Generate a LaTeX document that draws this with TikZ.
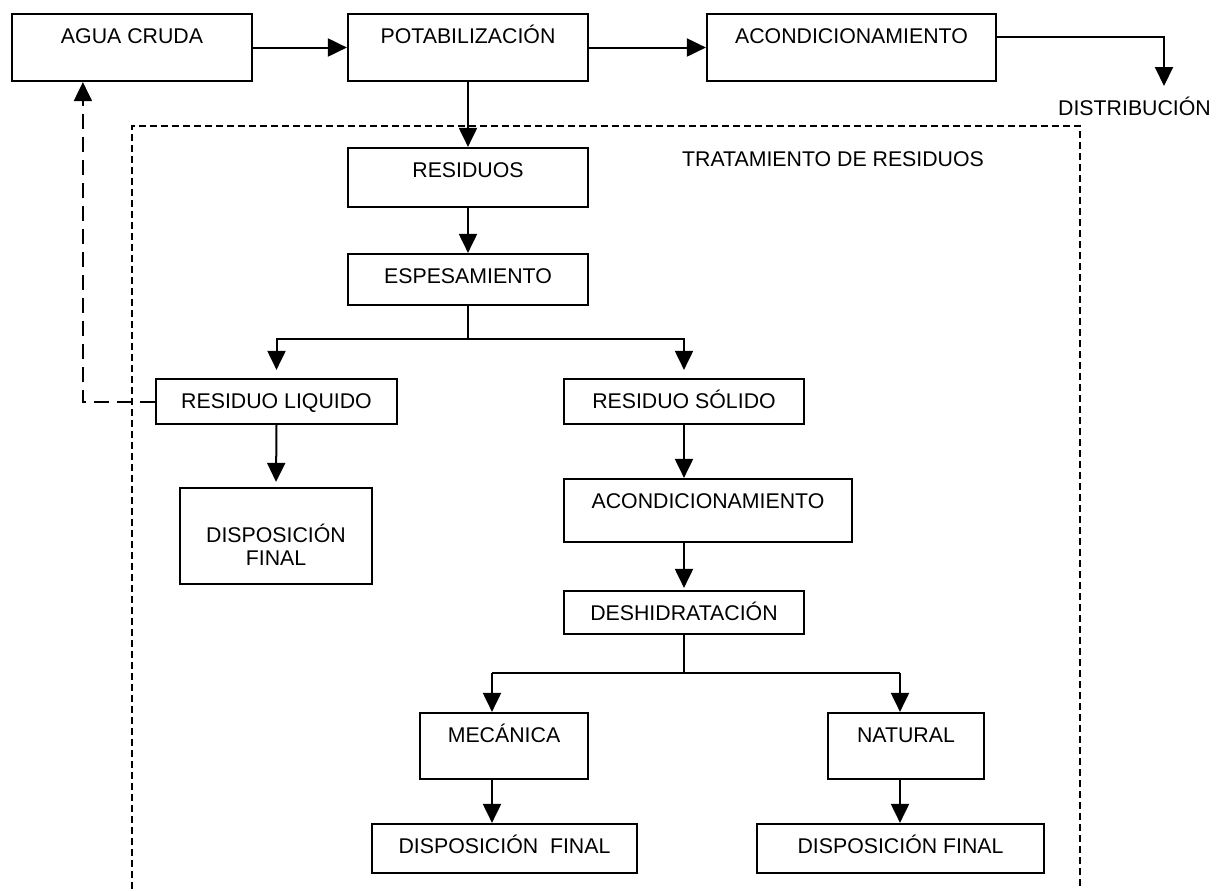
\documentclass[tikz,border=0pt]{standalone}
\usepackage{fontspec}
\setmainfont{Liberation Sans}
\usetikzlibrary{arrows.meta,calc}
\begin{document}
\begin{tikzpicture}[x=0.5pt,y=-0.5pt,
  font=\fontsize{10.65pt}{11.5pt}\selectfont,
  box/.style={draw, line width=1.1pt, rectangle, inner sep=0pt},
  lbl/.style={anchor=center, inner sep=0pt, text height=0.716em, text depth=0pt},
  ttl/.style={label={[lbl, yshift=-11.75pt]north:#1}},
  conn/.style={line width=1pt},
  tip/.style={-{Triangle[length=9.5pt,width=9pt]}},
  arr/.style={conn, tip},
  fb/.style={line width=1pt, dash pattern=on 7.5pt off 4pt, tip},
  zone/.style={line width=0.9pt, dash pattern=on 3.5pt off 2pt}
]
\useasboundingbox (0,0) rectangle (1217,890);

% main water line
\node[box, minimum width=120pt,   minimum height=33.5pt, ttl={AGUA CRUDA}]        (agua)  at (132,47.5)   {};
\node[box, minimum width=120pt,   minimum height=33.5pt, ttl={POTABILIZACIÓN}]    (pot)   at (468,47.5)   {};
\node[box, minimum width=144.5pt, minimum height=33.5pt, ttl={ACONDICIONAMIENTO}] (acond) at (851.5,47.5) {};
\node[lbl] (distrib) at (1134.5,108) {DISTRIBUCIÓN};

% waste treatment zone
\draw[zone] (132,889) -- (132,126) -- (1080,126) -- (1080,889);
\node[lbl] (trat) at (833,159) {TRATAMIENTO DE RESIDUOS};

\node[box, minimum width=120pt,   minimum height=29.5pt, ttl={RESIDUOS}]          (residuos) at (468,177.5) {};
\node[box, minimum width=120pt,   minimum height=25.5pt, ttl={ESPESAMIENTO}]      (espes)    at (468,279.5) {};
\node[box, minimum width=120.5pt, minimum height=22.5pt, ttl={RESIDUO LIQUIDO}]   (rliq)     at (276.5,401.5) {};
\node[box, minimum width=96pt,    minimum height=48pt,
      label={[lbl, yshift=-24pt]north:DISPOSICIÓN},
      label={[lbl, yshift=-35.5pt]north:FINAL}]                                    (disp1)    at (276,536) {};
\node[box, minimum width=120pt,   minimum height=22.5pt, ttl={RESIDUO SÓLIDO}]    (rsol)     at (684,401.5) {};
\node[box, minimum width=144pt,   minimum height=31.5pt, ttl={ACONDICIONAMIENTO}] (acond2)   at (708,510.5) {};
\node[box, minimum width=120pt,   minimum height=21.5pt, ttl={DESHIDRATACIÓN}]    (deshid)   at (684,612.5) {};
\node[box, minimum width=84pt,    minimum height=33pt,   ttl={MECÁNICA}]          (mec)      at (504,746) {};
\node[box, minimum width=78pt,    minimum height=33pt,   ttl={NATURAL}]           (nat)      at (906,746) {};
\node[box, minimum width=132.5pt, minimum height=24.5pt, ttl={DISPOSICIÓN\ \ FINAL}] (disp2) at (504.5,848.5) {};
\node[box, minimum width=143.5pt, minimum height=24.5pt, ttl={DISPOSICIÓN FINAL}] (disp3)    at (900.5,848.5) {};

% connectors of the main line
\draw[arr] (agua.east) -- (pot.west);
\draw[arr] (pot.east) -- (acond.west);
\coordinate (dtip) at (1164,86);
\draw[arr] ($(acond.north east)+(0,24)$) -| (dtip);

% connectors of the treatment
\draw[arr] (pot.south) -- (residuos.north);
\draw[arr] (residuos.south) -- (espes.north);
\coordinate (espsplit) at (468,339);
\draw[conn] (espes.south) -- (espsplit);
\draw[arr, shorten >=4pt] (espsplit) -| (rliq.north);
\draw[arr, shorten >=4pt] (espsplit) -| (rsol.north);
\draw[arr, shorten >=2.5pt] (rliq.south) -- (disp1.north);
\draw[arr] (rsol.south) -- (rsol.south |- acond2.north);
\draw[arr, shorten >=1pt] (rsol.south |- acond2.south) -- (deshid.north);

\coordinate (dessplit) at (684,673);
\coordinate (lsp) at (492,673);
\coordinate (rsp) at (900,673);
\draw[conn] (deshid.south) -- (dessplit);
\draw[conn] (lsp) -- (rsp);
\draw[arr] (lsp) -- (lsp |- mec.north);
\draw[arr] (rsp) -- (rsp |- nat.north);
\draw[arr] (lsp |- mec.south) -- (lsp |- disp2.north);
\draw[arr] (rsp |- nat.south) -- (rsp |- disp3.north);

% return of the liquid waste to the raw water
\draw[fb] (rliq.west) -| ($(agua.south west)+(72,0)$);
\end{tikzpicture}
\end{document}
